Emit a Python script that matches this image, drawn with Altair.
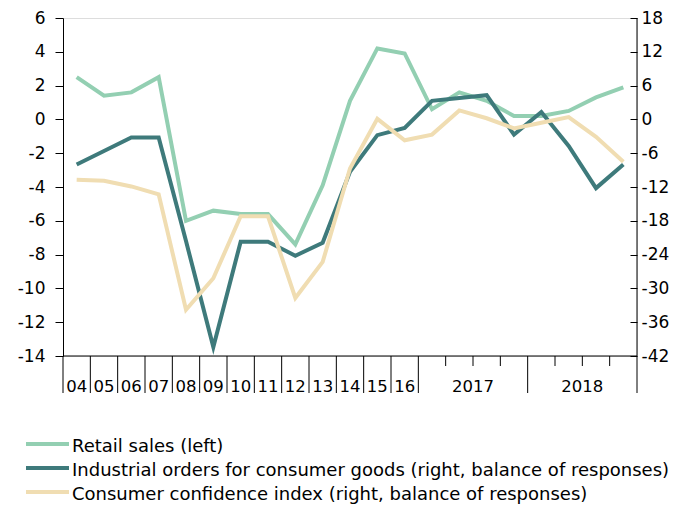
import altair as alt
import pandas as pd

# ---- data ----
periods = ["04", "05", "06", "07", "08", "09", "10", "11", "12", "13", "14", "15", "16",
           "2017Q1", "2017Q2", "2017Q3", "2017Q4", "2018Q1", "2018Q2", "2018Q3", "2018Q4"]
retail = [2.5, 1.4, 1.6, 2.5, -6.0, -5.4, -5.6, -5.6, -7.4, -3.9, 1.1, 4.2, 3.9,
          0.6, 1.6, 1.1, 0.2, 0.2, 0.5, 1.3, 1.9]
industrial = [-8.0, -5.6, -3.2, -3.2, -21.6, -40.4, -21.7, -21.7, -24.2, -21.9, -9.3, -2.8, -1.5,
              3.3, 3.8, 4.3, -2.7, 1.3, -4.7, -12.2, -8.0]
confidence = [-10.7, -10.9, -11.9, -13.3, -33.8, -28.2, -17.2, -17.2, -31.7, -25.3, -8.7, 0.1, -3.7,
              -2.7, 1.6, 0.2, -1.6, -0.6, 0.4, -3.1, -7.5]
axis_labels = ["04", "05", "06", "07", "08", "09", "10", "11", "12", "13", "14", "15", "16", "2017", "2018"]
left_ticks = [-14, -12, -10, -8, -6, -4, -2, 0, 2, 4, 6]
right_ticks = [-42, -36, -30, -24, -18, -12, -6, 0, 6, 12, 18]
series_names = ["Retail sales  (left)",
                "Industrial orders for consumer goods (right, balance of responses)",
                "Consumer confidence index (right, balance of responses)"]

GREEN = "#93cfb2"
TEAL = "#3e7a7b"
BEIGE = "#f0ddb2"
colors = [GREEN, TEAL, BEIGE]
FONT = "DejaVu Sans"

W, H = 574, 338
n = len(periods)

df = pd.DataFrame({
    "pos": [i + 0.5 for i in range(n)],
    "retail": retail,
    "industrial": industrial,
    "confidence": confidence,
})

xscale = alt.Scale(domain=[0, n], nice=False, zero=False)

retail_line = alt.Chart(df).mark_line(color=GREEN, strokeWidth=4).encode(
    x=alt.X("pos:Q", scale=xscale, axis=None),
    y=alt.Y("retail:Q",
            scale=alt.Scale(domain=[left_ticks[0], left_ticks[-1]], nice=False, zero=False),
            axis=alt.Axis(orient="left", values=left_ticks, title=None, grid=False,
                          labelExpr="toString(datum.value)",
                          tickSize=8, labelPadding=10, domainColor="black",
                          tickColor="black", labelColor="black", labelFont=FONT,
                          labelFontSize=17)),
)

right_lines = alt.Chart(df).transform_fold(
    ["industrial", "confidence"], as_=["series", "val"]
).mark_line(strokeWidth=4).encode(
    x=alt.X("pos:Q", scale=xscale, axis=None),
    y=alt.Y("val:Q",
            scale=alt.Scale(domain=[right_ticks[0], right_ticks[-1]], nice=False, zero=False),
            axis=alt.Axis(orient="right", values=right_ticks, title=None, grid=False,
                          labelExpr="toString(datum.value)", offset=-7, domain=False,
                          tickSize=7, labelPadding=4, tickColor="black",
                          labelColor="black", labelFont=FONT, labelFontSize=17)),
    color=alt.Color("series:N", scale=alt.Scale(domain=["industrial", "confidence"],
                                                range=[TEAL, BEIGE]), legend=None),
)

one = pd.DataFrame({"k": [0]})

right_domain = alt.Chart(one).mark_rule(color="black", strokeWidth=1).encode(
    x=alt.value(W), y=alt.value(0), y2=alt.value(H))
bottom_domain = alt.Chart(one).mark_rule(color="black", strokeWidth=1).encode(
    x=alt.value(0), x2=alt.value(W), y=alt.value(H))

# category boundaries: long ticks between years, short between quarters
long_bounds = list(range(0, 14)) + [17, 21]
short_bounds = [14, 15, 16, 18, 19, 20]

long_ticks = alt.Chart(pd.DataFrame({"b": long_bounds})).mark_rule(color="black", strokeWidth=1).encode(
    x=alt.X("b:Q", scale=xscale, axis=None), y=alt.value(H), y2=alt.value(H + 37))
short_ticks = alt.Chart(pd.DataFrame({"b": short_bounds})).mark_rule(color="black", strokeWidth=1).encode(
    x=alt.X("b:Q", scale=xscale, axis=None), y=alt.value(H), y2=alt.value(H + 10))

label_pos = [i + 0.5 for i in range(13)] + [15, 19]
xlabels = alt.Chart(pd.DataFrame({"p": label_pos, "t": axis_labels})).mark_text(
    font=FONT, fontSize=16.5, color="black", align="center", baseline="alphabetic"
).encode(x=alt.X("p:Q", scale=xscale, axis=None), y=alt.value(H + 36), text="t:N")

legend_layers = []
for i, (name, col) in enumerate(zip(series_names, colors)):
    legend_layers.append(
        alt.Chart(one).mark_rule(color=col, strokeWidth=4).encode(
            x=alt.value(-37), x2=alt.value(6), y=alt.value(H + 88 + 24 * i)))
    legend_layers.append(
        alt.Chart(pd.DataFrame({"t": [name]})).mark_text(
            font=FONT, fontSize=18, color="black", align="left", baseline="alphabetic"
        ).encode(x=alt.value(9), y=alt.value(H + 95.5 + 24 * i), text="t:N"))

chart = alt.layer(
    retail_line, right_lines, right_domain, bottom_domain, long_ticks, short_ticks, xlabels,
    *legend_layers
).resolve_scale(y="independent").properties(
    width=W, height=H,
    autosize=alt.AutoSizeParams(type="none"),
    padding={"left": 55, "top": 10, "right": 42, "bottom": 150},
).configure_view(stroke=None).configure(background="white")

chart.save("out.html", embed_options={"renderer": "svg", "actions": False})
